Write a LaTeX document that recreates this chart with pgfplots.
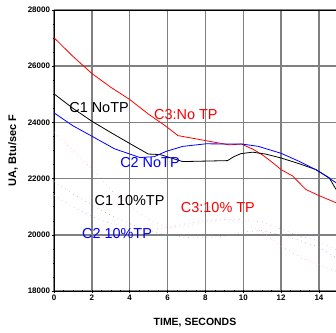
\documentclass[border=0pt]{standalone}
\usepackage{pgfplots}
\pgfplotsset{compat=1.18}
\usepackage{fontspec}
\setmainfont{Liberation Sans}
\definecolor{gridgray}{RGB}{128,128,128}
\begin{document}
\begin{tikzpicture}
\begin{axis}[
  scale only axis,
  width=282bp, height=281bp,
  xmin=0, xmax=14.9, ymin=18000, ymax=28000,
  axis x line=box, axis y line=left,
  axis line style={-, line width=0.8bp, black},
  xtick={0,2,...,14}, ytick={18000,20000,...,28000},
  scaled y ticks=false,
  minor x tick num=3, minor y tick num=3,
  xtick pos=bottom, ytick pos=left,
  tick align=center,
  major tick length=3bp, minor tick length=2bp,
  every tick/.style={black, line width=0.5bp},
  grid=major,
  major grid style={gridgray, line width=1.4bp},
  /pgf/number format/assume math mode=true,
  /pgf/number format/1000 sep={},
  ticklabel style={font=\bfseries\fontsize{8}{8}\selectfont},
  xticklabel style={yshift=1bp},
  yticklabel style={xshift=1bp},
  every axis x label/.style={at={(rel axis cs:0.5,0)}, yshift=-32bp, anchor=center, font=\bfseries\fontsize{10.5}{12}\selectfont},
  every axis y label/.style={at={(rel axis cs:0,0.5)}, xshift=-41bp, rotate=90, anchor=center, font=\bfseries\fontsize{11}{12}\selectfont},
  xlabel={TIME, SECONDS},
  ylabel={UA, Btu/sec F},
  clip=true,
]
\coordinate (ll) at (rel axis cs:0,0);
\coordinate (ur) at (rel axis cs:1,1);
% dotted 10% TP curves
\addplot[red!35, line width=0.6bp, dash pattern=on 0.6bp off 4bp] coordinates {
(0,23640) (1,23000) (2,22350) (3,21600) (4,21000) (5,20550) (6,20250) (7,20300) (8,20450) (9,20550) (10,20450) (11,20100) (12,19600) (13,19200) (14,18930) (14.9,18700)};
\addplot[blue!35, line width=0.6bp, dash pattern=on 0.6bp off 4bp] coordinates {
(0,21400) (1,21000) (2,20650) (3,20400) (4,20250) (5,20200) (6,20250) (7,20400) (8,20500) (9,20550) (10,20550) (11,20450) (12,20200) (13,19950) (14,19780) (14.9,19470)};
\addplot[black!35, line width=0.6bp, dash pattern=on 0.6bp off 4bp] coordinates {
(0,21900) (1,21450) (2,21050) (3,20700) (4,20400) (5,20150) (6,20000) (7,19900) (8,19900) (9,19950) (10,20100) (11,20150) (12,20000) (13,19800) (14,19550) (14.9,19200)};
% solid NoTP curves
\addplot[red, line width=0.8bp] coordinates {
(0,27013) (1,26350) (2,25741) (3,25250) (4,24815) (5,24290) (5.92,23860) (6.55,23530) (9.26,23200) (9.9,23230) (10.5,23050) (11,22850) (11.55,22570) (12,22320) (12.6,22097) (13.3,21616) (13.93,21416) (14.9,21142)};
\addplot[black, line width=0.8bp] coordinates {
(0,25018) (1,24500) (2,24042) (3,23640) (4,23250) (4.98,22875) (5.6,22855) (5.9,22795) (6.8,22606) (9.17,22640) (9.5,22780) (9.88,22890) (10.5,22940) (11.2,22870) (12,22733) (13,22520) (13.84,22320) (14.54,22030) (14.9,21616)};
\addplot[blue, line width=0.8bp] coordinates {
(0,24341) (1,23880) (2,23510) (3.2,23060) (4.54,22750) (5.3,22780) (5.92,22968) (6.8,23146) (8.03,23238) (9.96,23228) (10.8,23146) (12,22900) (13,22600) (13.84,22317) (14.37,22093) (14.9,21854)};
% labels
\node[black, font=\fontsize{14.5}{16}\selectfont] at (axis cs:2.38,24512) {C1 NoTP};
\node[red, font=\fontsize{14.5}{16}\selectfont] at (axis cs:6.97,24263) {C3:No TP};
\node[blue, font=\fontsize{14.5}{16}\selectfont] at (axis cs:5.07,22555) {C2 NoTP};
\node[black, font=\fontsize{14.5}{16}\selectfont] at (axis cs:3.99,21203) {C1 10\%TP};
\node[blue, font=\fontsize{14.5}{16}\selectfont] at (axis cs:3.33,20028) {C2 10\%TP};
\node[red, font=\fontsize{14.5}{16}\selectfont] at (axis cs:8.66,20954) {C3:10\% TP};
\end{axis}
\pgfresetboundingbox
\path ([shift={(-54bp,-42bp)}]ll) rectangle ([shift={(0bp,10bp)}]ur);
\end{tikzpicture}
\end{document}
